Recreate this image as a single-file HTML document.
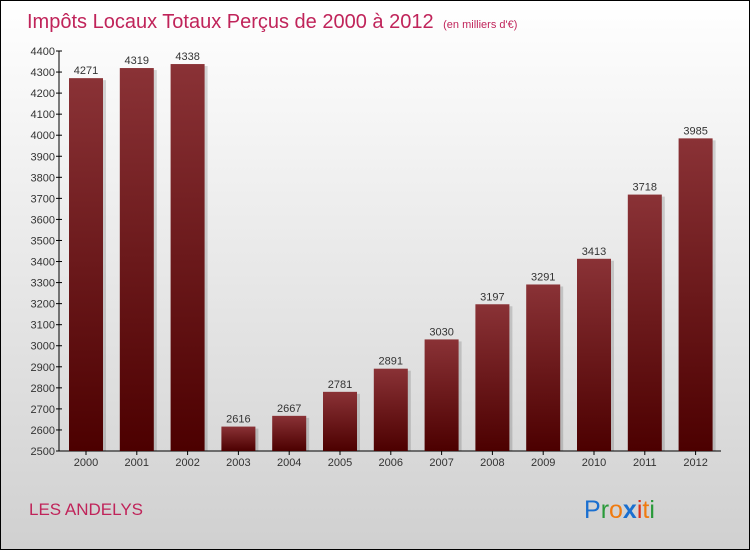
<!DOCTYPE html>
<html><head><meta charset="utf-8"><style>
body{margin:0;width:750px;height:550px;overflow:hidden}
#c{position:absolute;left:0;top:0;width:748px;height:548px;border:1px solid #000;background:linear-gradient(#ffffff,#d0d0d0)}
svg{position:absolute;left:0;top:0}
text{font-family:"Liberation Sans",sans-serif}
</style></head><body>
<div id="c">
<svg width="750" height="550" id="s">
<defs><linearGradient id="bg" x1="0" y1="0" x2="0" y2="1"><stop offset="0" stop-color="#8a3236"/><stop offset="1" stop-color="#4c0000"/></linearGradient></defs>
<text x="26" y="27" font-size="20" fill="#c0245a">Impôts Locaux Totaux Perçus de 2000 à 2012 <tspan font-size="11" dx="4">(en milliers d'€)</tspan></text>
<text x="28" y="514" font-size="17" fill="#c0245a">LES ANDELYS</text>
<text x="583" y="517" font-size="25"><tspan fill="#1a6fd0">P</tspan><tspan fill="#2a9a3a">r</tspan><tspan fill="#f07b10">o</tspan><tspan fill="#1a6fd0" font-weight="bold">x</tspan><tspan fill="#e0301a">i</tspan><tspan fill="#f07b10">t</tspan><tspan fill="#2a9a3a">i</tspan></text>
</svg></div>
<script>
const years=["2000","2001","2002","2003","2004","2005","2006","2007","2008","2009","2010","2011","2012"];
const values=[4271,4319,4338,2616,2667,2781,2891,3030,3197,3291,3413,3718,3985];
const yTicks=[2500,2600,2700,2800,2900,3000,3100,3200,3300,3400,3500,3600,3700,3800,3900,4000,4100,4200,4300,4400];
const s=document.getElementById('s');const NS="http://www.w3.org/2000/svg";
const y0=450,y1=50,vmin=2500,vmax=4400;
const Y=v=>y0-(v-vmin)/(vmax-vmin)*(y0-y1);
const X=i=>85+i*50.8;
function el(t,a,txt){const e=document.createElementNS(NS,t);for(const k in a)e.setAttribute(k,a[k]);if(txt!=null)e.textContent=txt;s.appendChild(e);return e;}
let ax=el('line',{x1:58,y1:y1,x2:58,y2:y0,stroke:'#000'});


let bx=el('line',{x1:58,y1:y0,x2:720,y2:y0,stroke:'#000'});


yTicks.forEach(v=>{const t=el('line',{x1:55,x2:61,y1:Y(v),y2:Y(v),stroke:'#000'});


const l=el('text',{x:54,y:Y(v)+4,'font-size':11,'text-anchor':'end',fill:'#333'},v);

});
years.forEach((yr,i)=>{const cx=X(i),v=values[i];
el('rect',{x:cx-17+3,y:Y(v)+2,width:34,height:y0-Y(v)-2,fill:'rgba(0,0,0,0.15)'});
const b=el('rect',{x:cx-17,y:Y(v),width:34,height:y0-Y(v),fill:'url(#bg)'});


const vl=el('text',{x:cx,y:Y(v)-4,'font-size':11,'text-anchor':'middle',fill:'#333'},v);


const tk=el('line',{x1:cx,x2:cx,y1:y0,y2:y0+4,stroke:'#000'});


const xl=el('text',{x:cx,y:y0+15,'font-size':11,'text-anchor':'middle',fill:'#333'},yr);

});
</script>
</body></html>
